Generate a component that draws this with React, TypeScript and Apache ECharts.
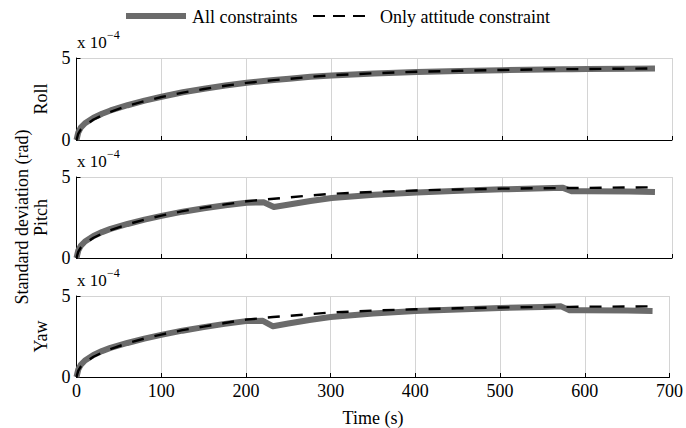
import React, { useEffect, useRef } from "react";
import * as echarts from "echarts";

const times = [0, 2, 5, 10, 20, 30, 40, 60, 80, 100, 125, 150, 175, 200, 220, 232, 250, 275, 300, 350, 400, 450, 500, 550, 572, 582, 600, 650, 680];

const rollAll = [0, 0.45, 0.75, 1.02, 1.36, 1.6, 1.8, 2.12, 2.4, 2.64, 2.91, 3.13, 3.32, 3.49, 3.6, 3.66, 3.74, 3.85, 3.94, 4.06, 4.15, 4.21, 4.26, 4.3, 4.31, 4.32, 4.33, 4.35, 4.36];
const rollAtt = [0, 0.38, 0.64, 0.9, 1.25, 1.5, 1.72, 2.08, 2.37, 2.62, 2.89, 3.11, 3.31, 3.48, 3.59, 3.65, 3.73, 3.85, 3.95, 4.07, 4.16, 4.22, 4.27, 4.31, 4.32, 4.32, 4.33, 4.35, 4.36];

const pitchAll = [0, 0.45, 0.75, 1.02, 1.36, 1.6, 1.8, 2.1, 2.37, 2.6, 2.86, 3.07, 3.26, 3.41, 3.44, 3.15, 3.3, 3.52, 3.7, 3.9, 4.05, 4.15, 4.24, 4.3, 4.33, 4.12, 4.12, 4.11, 4.08];
const pitchAtt = [0, 0.38, 0.64, 0.9, 1.25, 1.5, 1.72, 2.08, 2.37, 2.62, 2.89, 3.11, 3.31, 3.5, 3.6, 3.66, 3.74, 3.86, 3.96, 4.08, 4.17, 4.23, 4.28, 4.31, 4.32, 4.32, 4.33, 4.35, 4.36];

const yawAll = [0, 0.45, 0.75, 1.02, 1.36, 1.6, 1.8, 2.1, 2.37, 2.6, 2.86, 3.08, 3.28, 3.45, 3.47, 3.13, 3.3, 3.52, 3.7, 3.92, 4.07, 4.17, 4.26, 4.32, 4.36, 4.12, 4.12, 4.11, 4.08];
const yawAtt = [0, 0.38, 0.64, 0.9, 1.25, 1.5, 1.72, 2.08, 2.37, 2.62, 2.89, 3.11, 3.33, 3.54, 3.64, 3.7, 3.77, 3.88, 3.98, 4.1, 4.18, 4.24, 4.29, 4.32, 4.33, 4.33, 4.34, 4.35, 4.36];

const panelNames = ["Roll", "Pitch", "Yaw"];
const xTicks = [0, 100, 200, 300, 400, 500, 600, 700];
const yTicks = [0, 5];
const legendNames = ["All constraints", "Only attitude constraint"];

const FONT = "Liberation Serif";
const GRAY = "#6b6b6b";

export default function App() {
  const ref = useRef<HTMLDivElement>(null);
  useEffect(() => {
    if (!ref.current) return;
    const chart = echarts.init(ref.current, null, { renderer: "svg" });
    const tops = [58, 177, 296];
    const heights = [82, 81, 82];
    const left = 76.5;
    const right = 14;
    const allSets = [rollAll, pitchAll, yawAll];
    const attSets = [rollAtt, pitchAtt, yawAtt];

    const grids = tops.map((t, i) => ({ left, right, top: t, height: heights[i] }));
    const xAxes = tops.map((_, i) => ({
      type: "value",
      gridIndex: i,
      min: xTicks[0],
      max: xTicks[xTicks.length - 1],
      interval: 100,
      axisLine: { show: true, onZero: false, lineStyle: { color: "#000", width: 1 } },
      axisTick: { show: true, inside: true, length: 4, lineStyle: { color: "#000" } },
      splitLine: { show: true, lineStyle: { color: "#d4d4d4", width: 1 } },
      axisLabel: {
        show: i === 2,
        color: "#000",
        fontFamily: FONT,
        fontSize: 18,
        margin: 5,
      },
      name: i === 2 ? "Time (s)" : "",
      nameLocation: "middle",
      nameGap: 32,
      nameTextStyle: { color: "#000", fontFamily: FONT, fontSize: 18 },
    }));
    const yAxes = tops.map((_, i) => ({
      type: "value",
      gridIndex: i,
      min: yTicks[0],
      max: yTicks[1],
      interval: 5,
      axisLine: { show: true, onZero: false, lineStyle: { color: "#000", width: 1 } },
      axisTick: { show: true, inside: true, length: 4, lineStyle: { color: "#000" } },
      splitLine: { show: true, lineStyle: { color: "#d4d4d4", width: 1 } },
      axisLabel: { color: "#000", fontFamily: FONT, fontSize: 18, margin: 6 },
      name: panelNames[i],
      nameLocation: "middle",
      nameGap: 27,
      nameRotate: 90,
      nameTextStyle: { color: "#000", fontFamily: FONT, fontSize: 18 },
    }));

    const series: any[] = [];
    for (let i = 0; i < 3; i++) {
      series.push({
        type: "line",
        name: legendNames[0],
        xAxisIndex: i,
        yAxisIndex: i,
        data: times.map((t, k) => [t, allSets[i][k]]),
        showSymbol: false,
        symbol: "none",
        lineStyle: { color: GRAY, width: 6, join: "round" },
        z: 2,
      });
      series.push({
        type: "line",
        name: legendNames[1],
        xAxisIndex: i,
        yAxisIndex: i,
        data: times.map((t, k) => [t, attSets[i][k]]),
        showSymbol: false,
        symbol: "none",
        lineStyle: { color: "#000", width: 2.4, type: [12, 11] },
        z: 3,
      });
    }

    const graphics: any[] = [];
    tops.forEach((t) => {
      graphics.push({
        type: "text",
        x: 77,
        y: t - 7,
        style: { text: "x 10", font: `17px "${FONT}"`, fill: "#000", verticalAlign: "bottom" },
      });
      graphics.push({
        type: "text",
        x: 107,
        y: t - 29,
        style: { text: "\u22124", font: `12px "${FONT}"`, fill: "#000", verticalAlign: "top" },
      });
    });
    graphics.push({
      type: "text",
      x: 22,
      y: 217,
      rotation: Math.PI / 2,
      style: {
        text: "Standard deviation (rad)",
        font: `18px "${FONT}"`,
        fill: "#000",
        align: "center",
        verticalAlign: "middle",
      },
    });
    graphics.push({
      type: "line",
      shape: { x1: 126, y1: 16, x2: 186, y2: 16 },
      style: { stroke: GRAY, lineWidth: 6 },
    });
    graphics.push({
      type: "text",
      x: 192,
      y: 17,
      style: { text: legendNames[0], font: `18px "${FONT}"`, fill: "#000", verticalAlign: "middle" },
    });
    graphics.push({
      type: "line",
      shape: { x1: 313, y1: 16, x2: 373, y2: 16 },
      style: { stroke: "#000", lineWidth: 2, lineDash: [12, 8] },
    });
    graphics.push({
      type: "text",
      x: 380,
      y: 17,
      style: { text: legendNames[1], font: `18px "${FONT}"`, fill: "#000", verticalAlign: "middle" },
    });

    chart.setOption({
      animation: false,
      backgroundColor: "#fff",
      textStyle: { fontFamily: FONT },
      grid: grids,
      xAxis: xAxes,
      yAxis: yAxes,
      series,
      graphic: graphics,
    });
    return () => chart.dispose();
  }, []);
  return (
    <div
      ref={ref}
      style={{ position: "fixed", left: 0, top: 0, width: 686, height: 428, background: "#fff" }}
    />
  );
}
